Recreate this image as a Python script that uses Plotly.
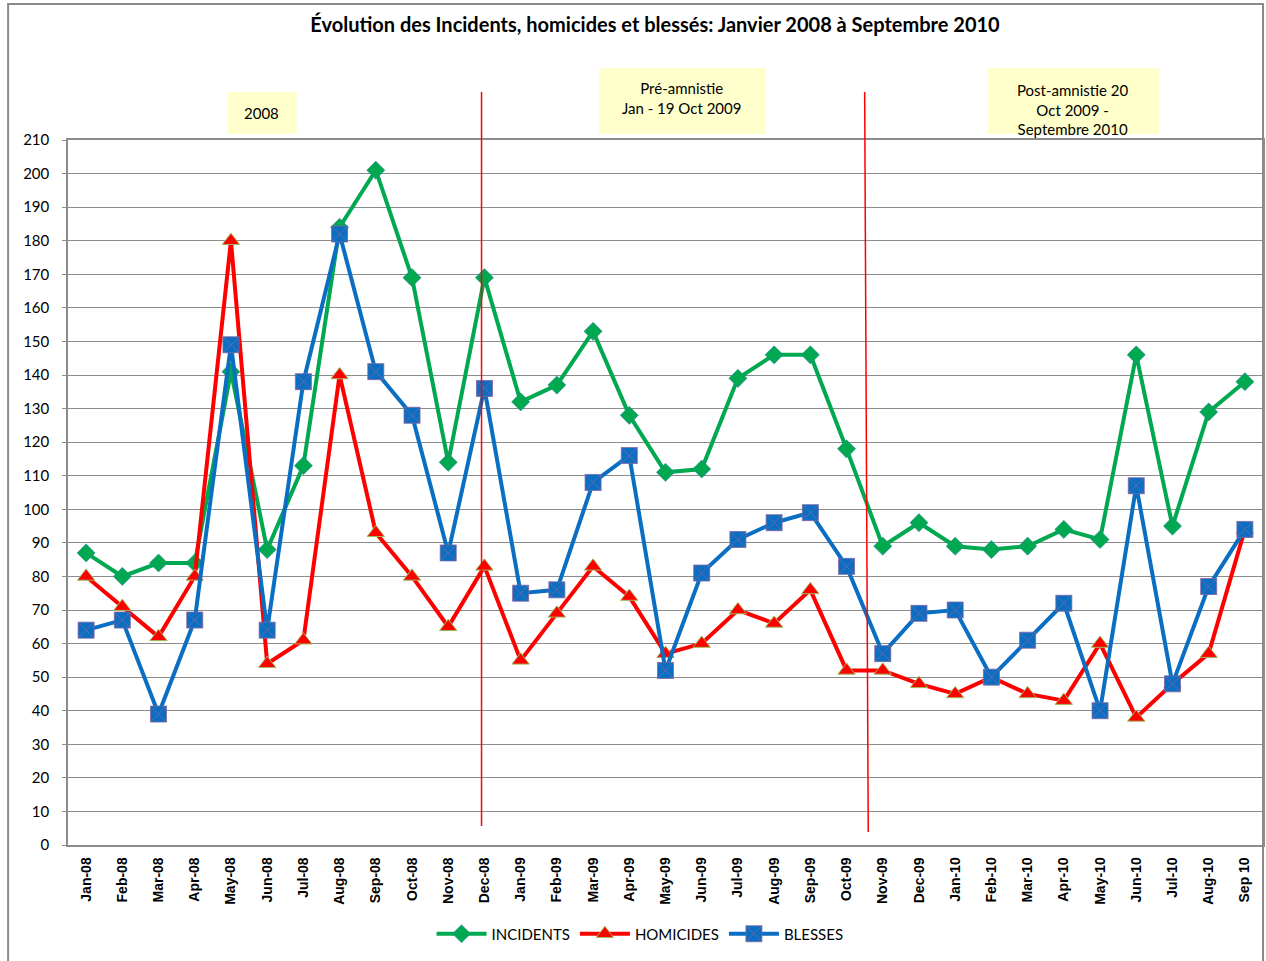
import plotly.graph_objects as go

months = ["Jan-08", "Feb-08", "Mar-08", "Apr-08", "May-08", "Jun-08", "Jul-08", "Aug-08",
          "Sep-08", "Oct-08", "Nov-08", "Dec-08", "Jan-09", "Feb-09", "Mar-09", "Apr-09",
          "May-09", "Jun-09", "Jul-09", "Aug-09", "Sep-09", "Oct-09", "Nov-09", "Dec-09",
          "Jan-10", "Feb-10", "Mar-10", "Apr-10", "May-10", "Jun-10", "Jul-10", "Aug-10", "Sep 10"]

incidents = [87, 80, 84, 84, 141, 88, 113, 184, 201, 169, 114, 169, 132, 137, 153, 128,
             111, 112, 139, 146, 146, 118, 89, 96, 89, 88, 89, 94, 91, 146, 95, 129, 138]
homicides = [80, 71, 62, 80, 180, 54, 61, 140, 93, 80, 65, 83, 55, 69, 83, 74,
             57, 60, 70, 66, 76, 52, 52, 48, 45, 50, 45, 43, 60, 38, 48, 57, 94]
blesses = [64, 67, 39, 67, 149, 64, 138, 182, 141, 128, 87, 136, 75, 76, 108, 116,
           52, 81, 91, 96, 99, 83, 57, 69, 70, 50, 61, 72, 40, 107, 48, 77, 94]

period_labels = ["2008", "Pré-amnistie<br>Jan - 19 Oct 2009",
                 "Post-amnistie 20<br>Oct 2009 -<br>Septembre 2010"]
divider_index = [10.92, 21.5]

GREEN = "#00A84F"
RED = "#FF0000"
BLUE = "#0A6FC2"

W, H = 1266, 961
L, R, T, B = 68, 1, 140, 116
pw = W - L - R
ph = H - T - B


def px_x(p):
    return (p - L) / pw


def px_y(p):
    return (H - B - p) / ph


n = len(months)

fig = go.Figure()
fig.add_trace(go.Scatter(
    x=months, y=incidents, name="INCIDENTS", mode="lines+markers",
    line=dict(color=GREEN, width=4),
    marker=dict(symbol="diamond", size=14, color=GREEN, line=dict(color="#3d7fb0", width=0.5)),
))
fig.add_trace(go.Scatter(
    x=months, y=homicides, name="HOMICIDES", mode="lines+markers",
    line=dict(color=RED, width=4),
    marker=dict(symbol="triangle-up", size=15, color=RED, line=dict(color="#9BBB59", width=1)),
))
fig.add_trace(go.Scatter(
    x=months, y=blesses, name="BLESSES", mode="lines+markers",
    line=dict(color=BLUE, width=4),
    marker=dict(symbol="square-x", size=16, color=BLUE, line=dict(color="#8064A2", width=0.8)),
))

shapes = []
# outer frame
shapes.append(dict(type="rect", xref="paper", yref="paper",
                   x0=px_x(8), x1=px_x(1265), y0=px_y(975), y1=px_y(4),
                   line=dict(color="#8a8a8a", width=2), fillcolor="rgba(0,0,0,0)", layer="below"))
# period boxes
boxes = [(228, 297, 92, 134), (600, 767, 68, 134), (989, 1161, 68, 134)]
for (x0, x1, y0, y1) in boxes:
    shapes.append(dict(type="rect", xref="paper", yref="paper",
                       x0=px_x(x0), x1=px_x(x1), y0=px_y(y1), y1=px_y(y0),
                       line=dict(width=0), fillcolor="#FFFFCC", layer="below"))
# red vertical dividers
for i, idx in enumerate(divider_index):
    xp = (idx + 0.5) / n
    shapes.append(dict(type="line", xref="paper", yref="paper",
                       x0=xp, x1=xp + (0.0 if i == 0 else 0.003),
                       y0=px_y(92), y1=px_y(826 if i == 0 else 832),
                       line=dict(color=RED, width=1.5)))

annotations = []
centers = [(262, 113), (683, 98), (1075, 109)]
for lab, (cx, cy) in zip(period_labels, centers):
    annotations.append(dict(text=lab, xref="paper", yref="paper", x=px_x(cx), y=px_y(cy),
                            xanchor="center", yanchor="middle", showarrow=False,
                            font=dict(family="Lato", size=15, color="#000000"),
                            align="center"))

fig.update_layout(
    width=W, height=H,
    margin=dict(l=L, r=R, t=T, b=B),
    paper_bgcolor="white", plot_bgcolor="white",
    title=dict(text="Évolution des Incidents, homicides et blessés: Janvier 2008 à Septembre 2010",
               x=655 / W, xref="container", xanchor="center",
               y=1 - 25 / H, yref="container", yanchor="middle",
               font=dict(family="Lato", size=20, color="#000000", weight="bold")),
    shapes=shapes,
    annotations=annotations,
    showlegend=True,
    legend=dict(orientation="h", x=px_x(641), xanchor="center", y=px_y(934), yanchor="middle",
                font=dict(family="Lato", size=15, color="#000000"), bgcolor="rgba(0,0,0,0)",
                itemwidth=50, tracegroupgap=0),
    xaxis=dict(type="category", range=[-0.5, n - 0.5], tickangle=-90,
               tickfont=dict(family="Liberation Sans", size=14, color="#000000", weight="bold"),
               showgrid=False, showline=True, linecolor="#8c8c8c", linewidth=1.5, mirror=True,
               ticks="", ticklabelstandoff=5),
    yaxis=dict(range=[0, 210], dtick=10, tick0=0,
               tickfont=dict(family="Lato", size=15, color="#000000"),
               showgrid=True, gridcolor="#8c8c8c", gridwidth=1,
               showline=True, linecolor="#8c8c8c", linewidth=1.5, mirror=True,
               ticks="outside", ticklen=4, tickcolor="#8c8c8c", ticklabelstandoff=10,
               zeroline=False),
)

fig.write_html(
    "out.html",
    config={"displayModeBar": False},
    post_script="document.body.style.margin='0';document.documentElement.style.overflow='hidden';",
)
